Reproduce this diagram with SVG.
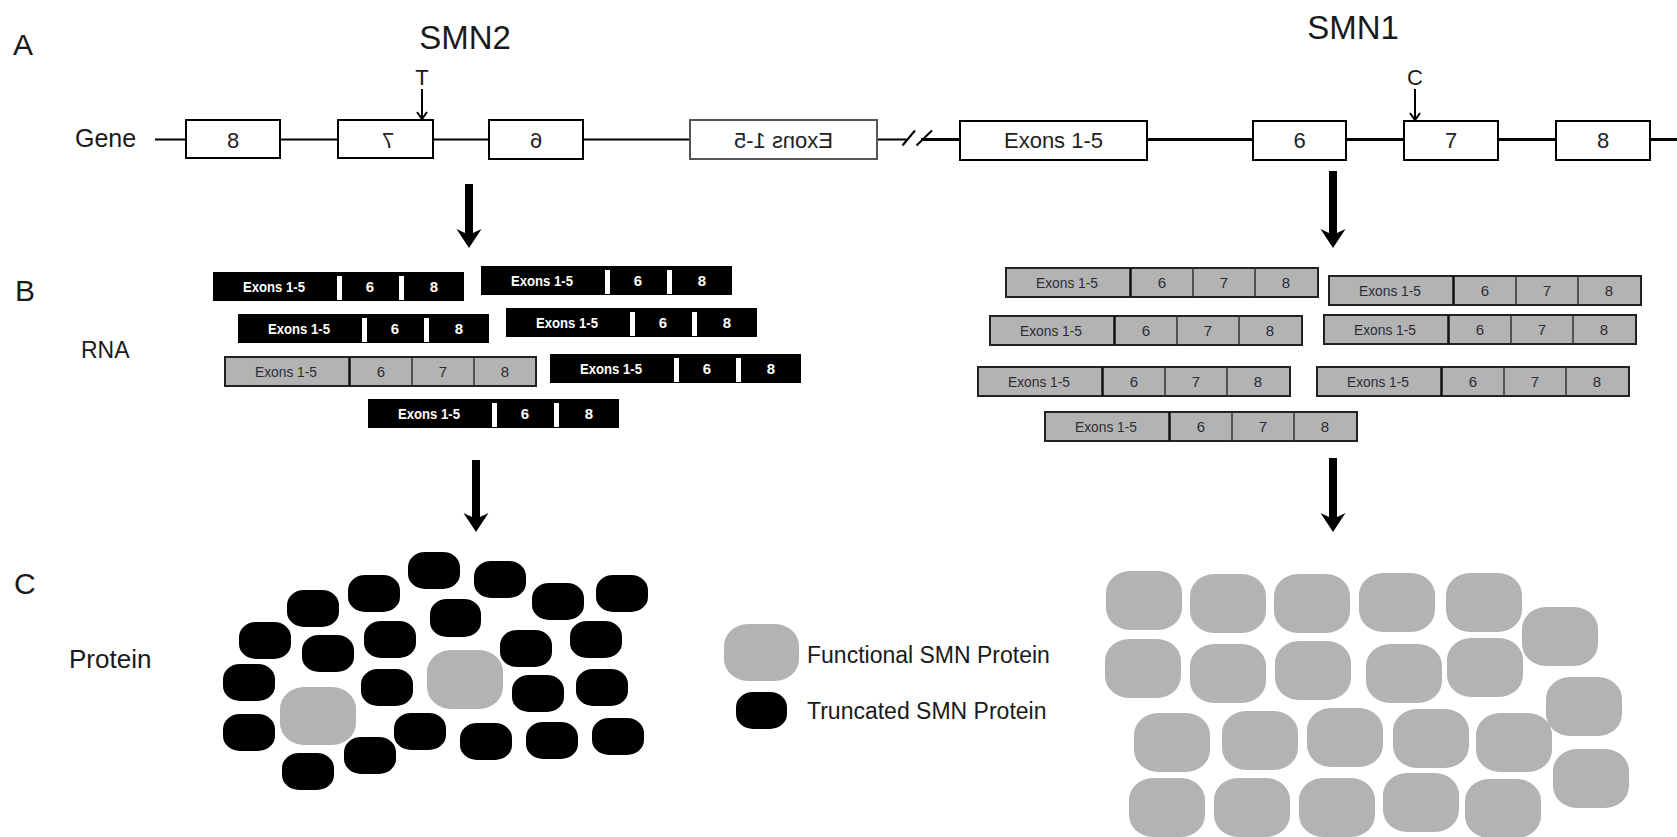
<svg xmlns="http://www.w3.org/2000/svg" width="1677" height="837" viewBox="0 0 1677 837">
<style>
text{font-family:"Liberation Sans",Arial,sans-serif;fill:#1a1a1a}
.big{font-size:30px}
.hdr{font-size:33px;text-anchor:middle}
.box{fill:#fff;stroke:#000;stroke-width:2}
.boxg{fill:#fff;stroke:#555;stroke-width:2}
.bt{font-size:22px;text-anchor:middle;fill:#222}
.tb .bg{fill:#000}
.tb .sep{fill:#fff}
.tt{fill:#fff;font-weight:bold;font-size:15px;text-anchor:middle}
.fb .bg{fill:#b3b3b3;stroke:#222;stroke-width:2}
.fb .s1{stroke:#111;stroke-width:2.5}
.fb .s2{stroke:#333;stroke-width:1.5}
.ft{fill:#2b2b35;font-size:15px;text-anchor:middle}
.blk{fill:#000}
.gry{fill:#b3b3b3}
.bb{fill:#000;stroke:none}
.thin{stroke:#000;stroke-width:2;fill:none}
.gl2{stroke:#000;stroke-width:2;fill:none}
.gl1{stroke:#000;stroke-width:3;fill:none}
</style>

<!-- labels -->
<g id="labels">
<text class="big" x="13" y="55">A</text>
<text class="big" x="15" y="301">B</text>
<text class="big" x="14" y="594">C</text>
<text class="hdr" x="465" y="49">SMN2</text>
<text class="hdr" x="1353" y="39">SMN1</text>
<text x="75" y="147" style="font-size:25px">Gene</text>
<text x="81" y="358" style="font-size:23px">RNA</text>
<text x="69" y="668" style="font-size:26px">Protein</text>
<text x="422" y="85" style="font-size:22px;text-anchor:middle">T</text>
<text x="1415" y="85" style="font-size:22px;text-anchor:middle">C</text>
</g>

<!-- gene backbone -->
<g id="backbone">
<line class="gl2" x1="155" y1="139.5" x2="907" y2="139.5"/>
<line class="gl2" x1="902.5" y1="145.5" x2="915" y2="130.5"/>
<line class="gl2" x1="916.5" y1="145.5" x2="932" y2="130.5"/>
<line class="gl1" x1="921" y1="139.5" x2="1677" y2="139.5"/>
</g>

<!-- SMN2 gene (mirrored) -->
<g id="smn2-ex8"><rect class="box" x="186" y="120" width="94" height="38"/><text class="bt" x="233" y="148">8</text></g>
<g id="smn2-ex7"><rect class="box" x="338" y="120" width="95" height="38"/><text class="bt" transform="matrix(-1 0 0 1 776 0)" x="388" y="148">7</text></g>
<g id="smn2-ex6"><rect class="box" x="489" y="120" width="94" height="39"/><text class="bt" transform="matrix(-1 0 0 1 1072 0)" x="536" y="148">6</text></g>
<g id="smn2-ex15"><rect class="boxg" x="690" y="120" width="187" height="39"/><text class="bt" transform="matrix(-1 0 0 1 1567 0)" x="783.5" y="148">Exons 1-5</text></g>

<!-- SMN1 gene -->
<g id="smn1-ex15"><rect class="box" x="960" y="121" width="187" height="39"/><text class="bt" x="1053.5" y="148">Exons 1-5</text></g>
<g id="smn1-ex6"><rect class="box" x="1253" y="121" width="93" height="39"/><text class="bt" x="1299.5" y="148">6</text></g>
<g id="smn1-ex7"><rect class="box" x="1404" y="121" width="94" height="39"/><text class="bt" x="1451" y="148">7</text></g>
<g id="smn1-ex8"><rect class="box" x="1556" y="121" width="94" height="39"/><text class="bt" x="1603" y="148">8</text></g>

<!-- SMN2 RNA -->
<g id="rna2-1" class="tb" transform="translate(213,272)"><rect class="bg" width="251" height="29"/><rect class="sep" x="124" y="4" width="5" height="24"/><rect class="sep" x="186" y="4" width="5" height="24"/><text class="tt" x="61" y="20" textLength="62" lengthAdjust="spacingAndGlyphs">Exons 1-5</text><text class="tt" x="157" y="20">6</text><text class="tt" x="221" y="20">8</text></g>
<g id="rna2-2" class="tb" transform="translate(481,266)"><rect class="bg" width="251" height="29"/><rect class="sep" x="124" y="4" width="5" height="24"/><rect class="sep" x="186" y="4" width="5" height="24"/><text class="tt" x="61" y="20" textLength="62" lengthAdjust="spacingAndGlyphs">Exons 1-5</text><text class="tt" x="157" y="20">6</text><text class="tt" x="221" y="20">8</text></g>
<g id="rna2-3" class="tb" transform="translate(238,314)"><rect class="bg" width="251" height="29"/><rect class="sep" x="124" y="4" width="5" height="24"/><rect class="sep" x="186" y="4" width="5" height="24"/><text class="tt" x="61" y="20" textLength="62" lengthAdjust="spacingAndGlyphs">Exons 1-5</text><text class="tt" x="157" y="20">6</text><text class="tt" x="221" y="20">8</text></g>
<g id="rna2-4" class="tb" transform="translate(506,308)"><rect class="bg" width="251" height="29"/><rect class="sep" x="124" y="4" width="5" height="24"/><rect class="sep" x="186" y="4" width="5" height="24"/><text class="tt" x="61" y="20" textLength="62" lengthAdjust="spacingAndGlyphs">Exons 1-5</text><text class="tt" x="157" y="20">6</text><text class="tt" x="221" y="20">8</text></g>
<g id="rna2-5" class="fb" transform="translate(225,357)"><rect class="bg" width="311" height="29"/><line class="s1" x1="124.5" y1="0" x2="124.5" y2="29"/><line class="s2" x1="187" y1="0" x2="187" y2="29"/><line class="s2" x1="249" y1="0" x2="249" y2="29"/><text class="ft" x="61" y="20" textLength="62" lengthAdjust="spacingAndGlyphs">Exons 1-5</text><text class="ft" x="156" y="20">6</text><text class="ft" x="218" y="20">7</text><text class="ft" x="280" y="20">8</text></g>
<g id="rna2-6" class="tb" transform="translate(550,354)"><rect class="bg" width="251" height="29"/><rect class="sep" x="124" y="4" width="5" height="24"/><rect class="sep" x="186" y="4" width="5" height="24"/><text class="tt" x="61" y="20" textLength="62" lengthAdjust="spacingAndGlyphs">Exons 1-5</text><text class="tt" x="157" y="20">6</text><text class="tt" x="221" y="20">8</text></g>
<g id="rna2-7" class="tb" transform="translate(368,399)"><rect class="bg" width="251" height="29"/><rect class="sep" x="124" y="4" width="5" height="24"/><rect class="sep" x="186" y="4" width="5" height="24"/><text class="tt" x="61" y="20" textLength="62" lengthAdjust="spacingAndGlyphs">Exons 1-5</text><text class="tt" x="157" y="20">6</text><text class="tt" x="221" y="20">8</text></g>

<!-- SMN1 RNA -->
<g id="rna1-1" class="fb" transform="translate(1006,268)"><rect class="bg" width="312" height="29"/><line class="s1" x1="124.5" y1="0" x2="124.5" y2="29"/><line class="s2" x1="187" y1="0" x2="187" y2="29"/><line class="s2" x1="249" y1="0" x2="249" y2="29"/><text class="ft" x="61" y="20" textLength="62" lengthAdjust="spacingAndGlyphs">Exons 1-5</text><text class="ft" x="156" y="20">6</text><text class="ft" x="218" y="20">7</text><text class="ft" x="280" y="20">8</text></g>
<g id="rna1-2" class="fb" transform="translate(1329,276)"><rect class="bg" width="312" height="29"/><line class="s1" x1="124.5" y1="0" x2="124.5" y2="29"/><line class="s2" x1="187" y1="0" x2="187" y2="29"/><line class="s2" x1="249" y1="0" x2="249" y2="29"/><text class="ft" x="61" y="20" textLength="62" lengthAdjust="spacingAndGlyphs">Exons 1-5</text><text class="ft" x="156" y="20">6</text><text class="ft" x="218" y="20">7</text><text class="ft" x="280" y="20">8</text></g>
<g id="rna1-3" class="fb" transform="translate(990,316)"><rect class="bg" width="312" height="29"/><line class="s1" x1="124.5" y1="0" x2="124.5" y2="29"/><line class="s2" x1="187" y1="0" x2="187" y2="29"/><line class="s2" x1="249" y1="0" x2="249" y2="29"/><text class="ft" x="61" y="20" textLength="62" lengthAdjust="spacingAndGlyphs">Exons 1-5</text><text class="ft" x="156" y="20">6</text><text class="ft" x="218" y="20">7</text><text class="ft" x="280" y="20">8</text></g>
<g id="rna1-4" class="fb" transform="translate(1324,315)"><rect class="bg" width="312" height="29"/><line class="s1" x1="124.5" y1="0" x2="124.5" y2="29"/><line class="s2" x1="187" y1="0" x2="187" y2="29"/><line class="s2" x1="249" y1="0" x2="249" y2="29"/><text class="ft" x="61" y="20" textLength="62" lengthAdjust="spacingAndGlyphs">Exons 1-5</text><text class="ft" x="156" y="20">6</text><text class="ft" x="218" y="20">7</text><text class="ft" x="280" y="20">8</text></g>
<g id="rna1-5" class="fb" transform="translate(978,367)"><rect class="bg" width="312" height="29"/><line class="s1" x1="124.5" y1="0" x2="124.5" y2="29"/><line class="s2" x1="187" y1="0" x2="187" y2="29"/><line class="s2" x1="249" y1="0" x2="249" y2="29"/><text class="ft" x="61" y="20" textLength="62" lengthAdjust="spacingAndGlyphs">Exons 1-5</text><text class="ft" x="156" y="20">6</text><text class="ft" x="218" y="20">7</text><text class="ft" x="280" y="20">8</text></g>
<g id="rna1-6" class="fb" transform="translate(1317,367)"><rect class="bg" width="312" height="29"/><line class="s1" x1="124.5" y1="0" x2="124.5" y2="29"/><line class="s2" x1="187" y1="0" x2="187" y2="29"/><line class="s2" x1="249" y1="0" x2="249" y2="29"/><text class="ft" x="61" y="20" textLength="62" lengthAdjust="spacingAndGlyphs">Exons 1-5</text><text class="ft" x="156" y="20">6</text><text class="ft" x="218" y="20">7</text><text class="ft" x="280" y="20">8</text></g>
<g id="rna1-7" class="fb" transform="translate(1045,412)"><rect class="bg" width="312" height="29"/><line class="s1" x1="124.5" y1="0" x2="124.5" y2="29"/><line class="s2" x1="187" y1="0" x2="187" y2="29"/><line class="s2" x1="249" y1="0" x2="249" y2="29"/><text class="ft" x="61" y="20" textLength="62" lengthAdjust="spacingAndGlyphs">Exons 1-5</text><text class="ft" x="156" y="20">6</text><text class="ft" x="218" y="20">7</text><text class="ft" x="280" y="20">8</text></g>

<!-- SMN2 proteins -->
<g id="protein-smn2">
<rect class="blk" x="408" y="552" width="52" height="37" rx="17" ry="15"/>
<rect class="blk" x="474" y="561" width="52" height="37" rx="17" ry="15"/>
<rect class="blk" x="348" y="575" width="52" height="37" rx="17" ry="15"/>
<rect class="blk" x="596" y="575" width="52" height="37" rx="17" ry="15"/>
<rect class="blk" x="532" y="583" width="52" height="37" rx="17" ry="15"/>
<rect class="blk" x="287" y="590" width="52" height="37" rx="17" ry="15"/>
<rect class="blk" x="430" y="599" width="51" height="38" rx="17" ry="15"/>
<rect class="blk" x="239" y="622" width="52" height="37" rx="17" ry="15"/>
<rect class="blk" x="364" y="621" width="52" height="37" rx="17" ry="15"/>
<rect class="blk" x="570" y="621" width="52" height="37" rx="17" ry="15"/>
<rect class="blk" x="302" y="635" width="52" height="37" rx="17" ry="15"/>
<rect class="blk" x="500" y="630" width="52" height="37" rx="17" ry="15"/>
<rect class="blk" x="223" y="664" width="52" height="37" rx="17" ry="15"/>
<rect class="blk" x="361" y="669" width="52" height="37" rx="17" ry="15"/>
<rect class="blk" x="576" y="669" width="52" height="37" rx="17" ry="15"/>
<rect class="blk" x="512" y="675" width="52" height="37" rx="17" ry="15"/>
<rect class="blk" x="223" y="714" width="52" height="37" rx="17" ry="15"/>
<rect class="blk" x="394" y="713" width="52" height="37" rx="17" ry="15"/>
<rect class="blk" x="460" y="723" width="52" height="37" rx="17" ry="15"/>
<rect class="blk" x="526" y="722" width="52" height="37" rx="17" ry="15"/>
<rect class="blk" x="592" y="718" width="52" height="37" rx="17" ry="15"/>
<rect class="blk" x="344" y="737" width="52" height="37" rx="17" ry="15"/>
<rect class="blk" x="282" y="753" width="52" height="37" rx="17" ry="15"/>
<rect class="gry" x="427" y="650" width="76" height="59" rx="24" ry="22"/>
<rect class="gry" x="280" y="687" width="76" height="58" rx="24" ry="22"/>
</g>

<!-- legend -->
<g id="legend-functional"><rect class="gry" x="724" y="624" width="75" height="57" rx="24" ry="22"/><text x="807" y="663" style="font-size:23px">Functional SMN Protein</text></g>
<g id="legend-truncated"><rect class="blk" x="736" y="692" width="51" height="37" rx="17" ry="15"/><text x="807" y="719" style="font-size:23px">Truncated SMN Protein</text></g>

<!-- SMN1 proteins -->
<g id="protein-smn1">
<rect class="gry" x="1106" y="571" width="76" height="59" rx="24" ry="22"/>
<rect class="gry" x="1190" y="574" width="76" height="59" rx="24" ry="22"/>
<rect class="gry" x="1274" y="574" width="76" height="59" rx="24" ry="22"/>
<rect class="gry" x="1359" y="573" width="76" height="59" rx="24" ry="22"/>
<rect class="gry" x="1446" y="573" width="76" height="59" rx="24" ry="22"/>
<rect class="gry" x="1522" y="607" width="76" height="59" rx="24" ry="22"/>
<rect class="gry" x="1105" y="639" width="76" height="59" rx="24" ry="22"/>
<rect class="gry" x="1190" y="644" width="76" height="59" rx="24" ry="22"/>
<rect class="gry" x="1275" y="641" width="76" height="59" rx="24" ry="22"/>
<rect class="gry" x="1366" y="644" width="76" height="59" rx="24" ry="22"/>
<rect class="gry" x="1447" y="638" width="76" height="59" rx="24" ry="22"/>
<rect class="gry" x="1546" y="677" width="76" height="59" rx="24" ry="22"/>
<rect class="gry" x="1134" y="713" width="76" height="59" rx="24" ry="22"/>
<rect class="gry" x="1222" y="711" width="76" height="59" rx="24" ry="22"/>
<rect class="gry" x="1307" y="708" width="76" height="59" rx="24" ry="22"/>
<rect class="gry" x="1393" y="709" width="76" height="59" rx="24" ry="22"/>
<rect class="gry" x="1476" y="713" width="76" height="59" rx="24" ry="22"/>
<rect class="gry" x="1553" y="749" width="76" height="59" rx="24" ry="22"/>
<rect class="gry" x="1129" y="778" width="76" height="59" rx="24" ry="22"/>
<rect class="gry" x="1214" y="778" width="76" height="59" rx="24" ry="22"/>
<rect class="gry" x="1299" y="778" width="76" height="59" rx="24" ry="22"/>
<rect class="gry" x="1383" y="773" width="76" height="59" rx="24" ry="22"/>
<rect class="gry" x="1465" y="779" width="76" height="59" rx="24" ry="22"/>
</g>

<!-- connectors -->
<g id="connectors">
<line class="thin" x1="422" y1="89" x2="422" y2="119"/>
<polyline class="thin" points="417,112 422,119 427,112"/>
<line class="thin" x1="1415" y1="89" x2="1415" y2="120"/>
<polyline class="thin" points="1410,113 1415,120 1420,113"/>
<path class="bb" d="M465,184 H473 V233 L481.5,229 L469,248 L456.5,229 L465,233 Z"/>
<path class="bb" d="M1329,171 H1337 V233 L1345.5,229 L1333,248 L1320.5,229 L1329,233 Z"/>
<path class="bb" d="M472,460 H480 V517 L488.5,513 L476,532 L463.5,513 L472,517 Z"/>
<path class="bb" d="M1329,458 H1337 V517 L1345.5,513 L1333,532 L1320.5,513 L1329,517 Z"/>
</g>
</svg>
